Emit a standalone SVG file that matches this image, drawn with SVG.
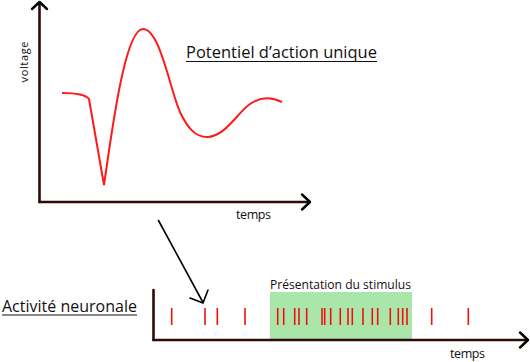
<svg xmlns="http://www.w3.org/2000/svg" width="530" height="362" viewBox="0 0 530 362">
<style>
.axis{fill:none;stroke:#2e0a0a;stroke-width:2.6;stroke-linecap:round;stroke-linejoin:round}
.head{fill:none;stroke:#000;stroke-width:2.4;stroke-linecap:round;stroke-linejoin:round}
.spike{stroke:#f01010;stroke-width:1.6}
.lbl{font-family:"Open Sans","Liberation Sans",sans-serif;fill:#111}
.ul{stroke:#111;stroke-width:1}
</style>
<rect width="530" height="362" fill="#fff"/>
<g id="plot-top">
<line class="axis" x1="39.5" y1="3" x2="39.5" y2="202"/>
<line class="axis" x1="39.5" y1="202" x2="309" y2="202"/>
<polyline class="head" points="32,9 39.5,2 47,9"/>
<polyline class="head" points="302,194.5 310,202 302,209.5"/>
<text class="lbl" font-size="11" transform="translate(28,62) rotate(-90)" text-anchor="middle" textLength="41">voltage</text>
<text class="lbl" x="236" y="219" font-size="12.5" textLength="35">temps</text>
<path d="M62,93 C78,93 86,95 89,99 L104,185 C112,130 125,29 143,29 C160,29 170,90 180,112 C188,129 196,137 207,137 C225,137 238,112 250,104 C262,96 272,97 282,102" fill="none" stroke="#ff1a1a" stroke-width="2"/>
</g>
<g id="title-top">
<text class="lbl" x="186" y="58" font-size="15.5" textLength="191" lengthAdjust="spacingAndGlyphs">Potentiel d’action unique</text>
<line class="ul" x1="186" y1="61.5" x2="377" y2="61.5"/>
</g>
<g id="title-bottom">
<text class="lbl" x="2" y="312" font-size="15.5" textLength="135" lengthAdjust="spacingAndGlyphs">Activité neuronale</text>
<line class="ul" x1="2" y1="315" x2="137" y2="315"/>
</g>
<g id="plot-bottom">
<rect x="270" y="292" width="142" height="47" fill="#aae6aa"/>
<text class="lbl" x="270" y="289" font-size="12.5" textLength="141" lengthAdjust="spacingAndGlyphs">Présentation du stimulus</text>
<line class="axis" x1="153.5" y1="290" x2="153.5" y2="340"/>
<line class="axis" x1="153.5" y1="340" x2="527" y2="340"/>
<polyline class="head" points="520,332.5 528,340 520,347.5"/>
<text class="lbl" x="450" y="358" font-size="12.5" textLength="35">temps</text>
<g id="spikes">
<line class="spike" x1="171.7" y1="308" x2="171.7" y2="325"/>
<line class="spike" x1="205" y1="308" x2="205" y2="325"/>
<line class="spike" x1="217.3" y1="308" x2="217.3" y2="325"/>
<line class="spike" x1="245" y1="308" x2="245" y2="325"/>
<line class="spike" x1="277.7" y1="308" x2="277.7" y2="325"/>
<line class="spike" x1="283.7" y1="308" x2="283.7" y2="325"/>
<line class="spike" x1="294.7" y1="308" x2="294.7" y2="325"/>
<line class="spike" x1="299" y1="308" x2="299" y2="325"/>
<line class="spike" x1="306.7" y1="308" x2="306.7" y2="325"/>
<line class="spike" x1="322" y1="308" x2="322" y2="325"/>
<line class="spike" x1="324.7" y1="308" x2="324.7" y2="325"/>
<line class="spike" x1="330.7" y1="308" x2="330.7" y2="325"/>
<line class="spike" x1="340.3" y1="308" x2="340.3" y2="325"/>
<line class="spike" x1="348" y1="308" x2="348" y2="325"/>
<line class="spike" x1="352.3" y1="308" x2="352.3" y2="325"/>
<line class="spike" x1="363" y1="308" x2="363" y2="325"/>
<line class="spike" x1="372.3" y1="308" x2="372.3" y2="325"/>
<line class="spike" x1="377.7" y1="308" x2="377.7" y2="325"/>
<line class="spike" x1="390.3" y1="308" x2="390.3" y2="325"/>
<line class="spike" x1="398.3" y1="308" x2="398.3" y2="325"/>
<line class="spike" x1="402.7" y1="308" x2="402.7" y2="325"/>
<line class="spike" x1="407" y1="308" x2="407" y2="325"/>
<line class="spike" x1="431.7" y1="308" x2="431.7" y2="325"/>
<line class="spike" x1="468.3" y1="308" x2="468.3" y2="325"/>
</g>
</g>
<g id="connectors">
<line x1="158.5" y1="220.5" x2="203" y2="302.5" stroke="#000" stroke-width="1.6" stroke-linecap="round"/>
<polyline points="190,298 203,303 208,290" fill="none" stroke="#000" stroke-width="1.6" stroke-linecap="round" stroke-linejoin="round"/>
</g>
</svg>
